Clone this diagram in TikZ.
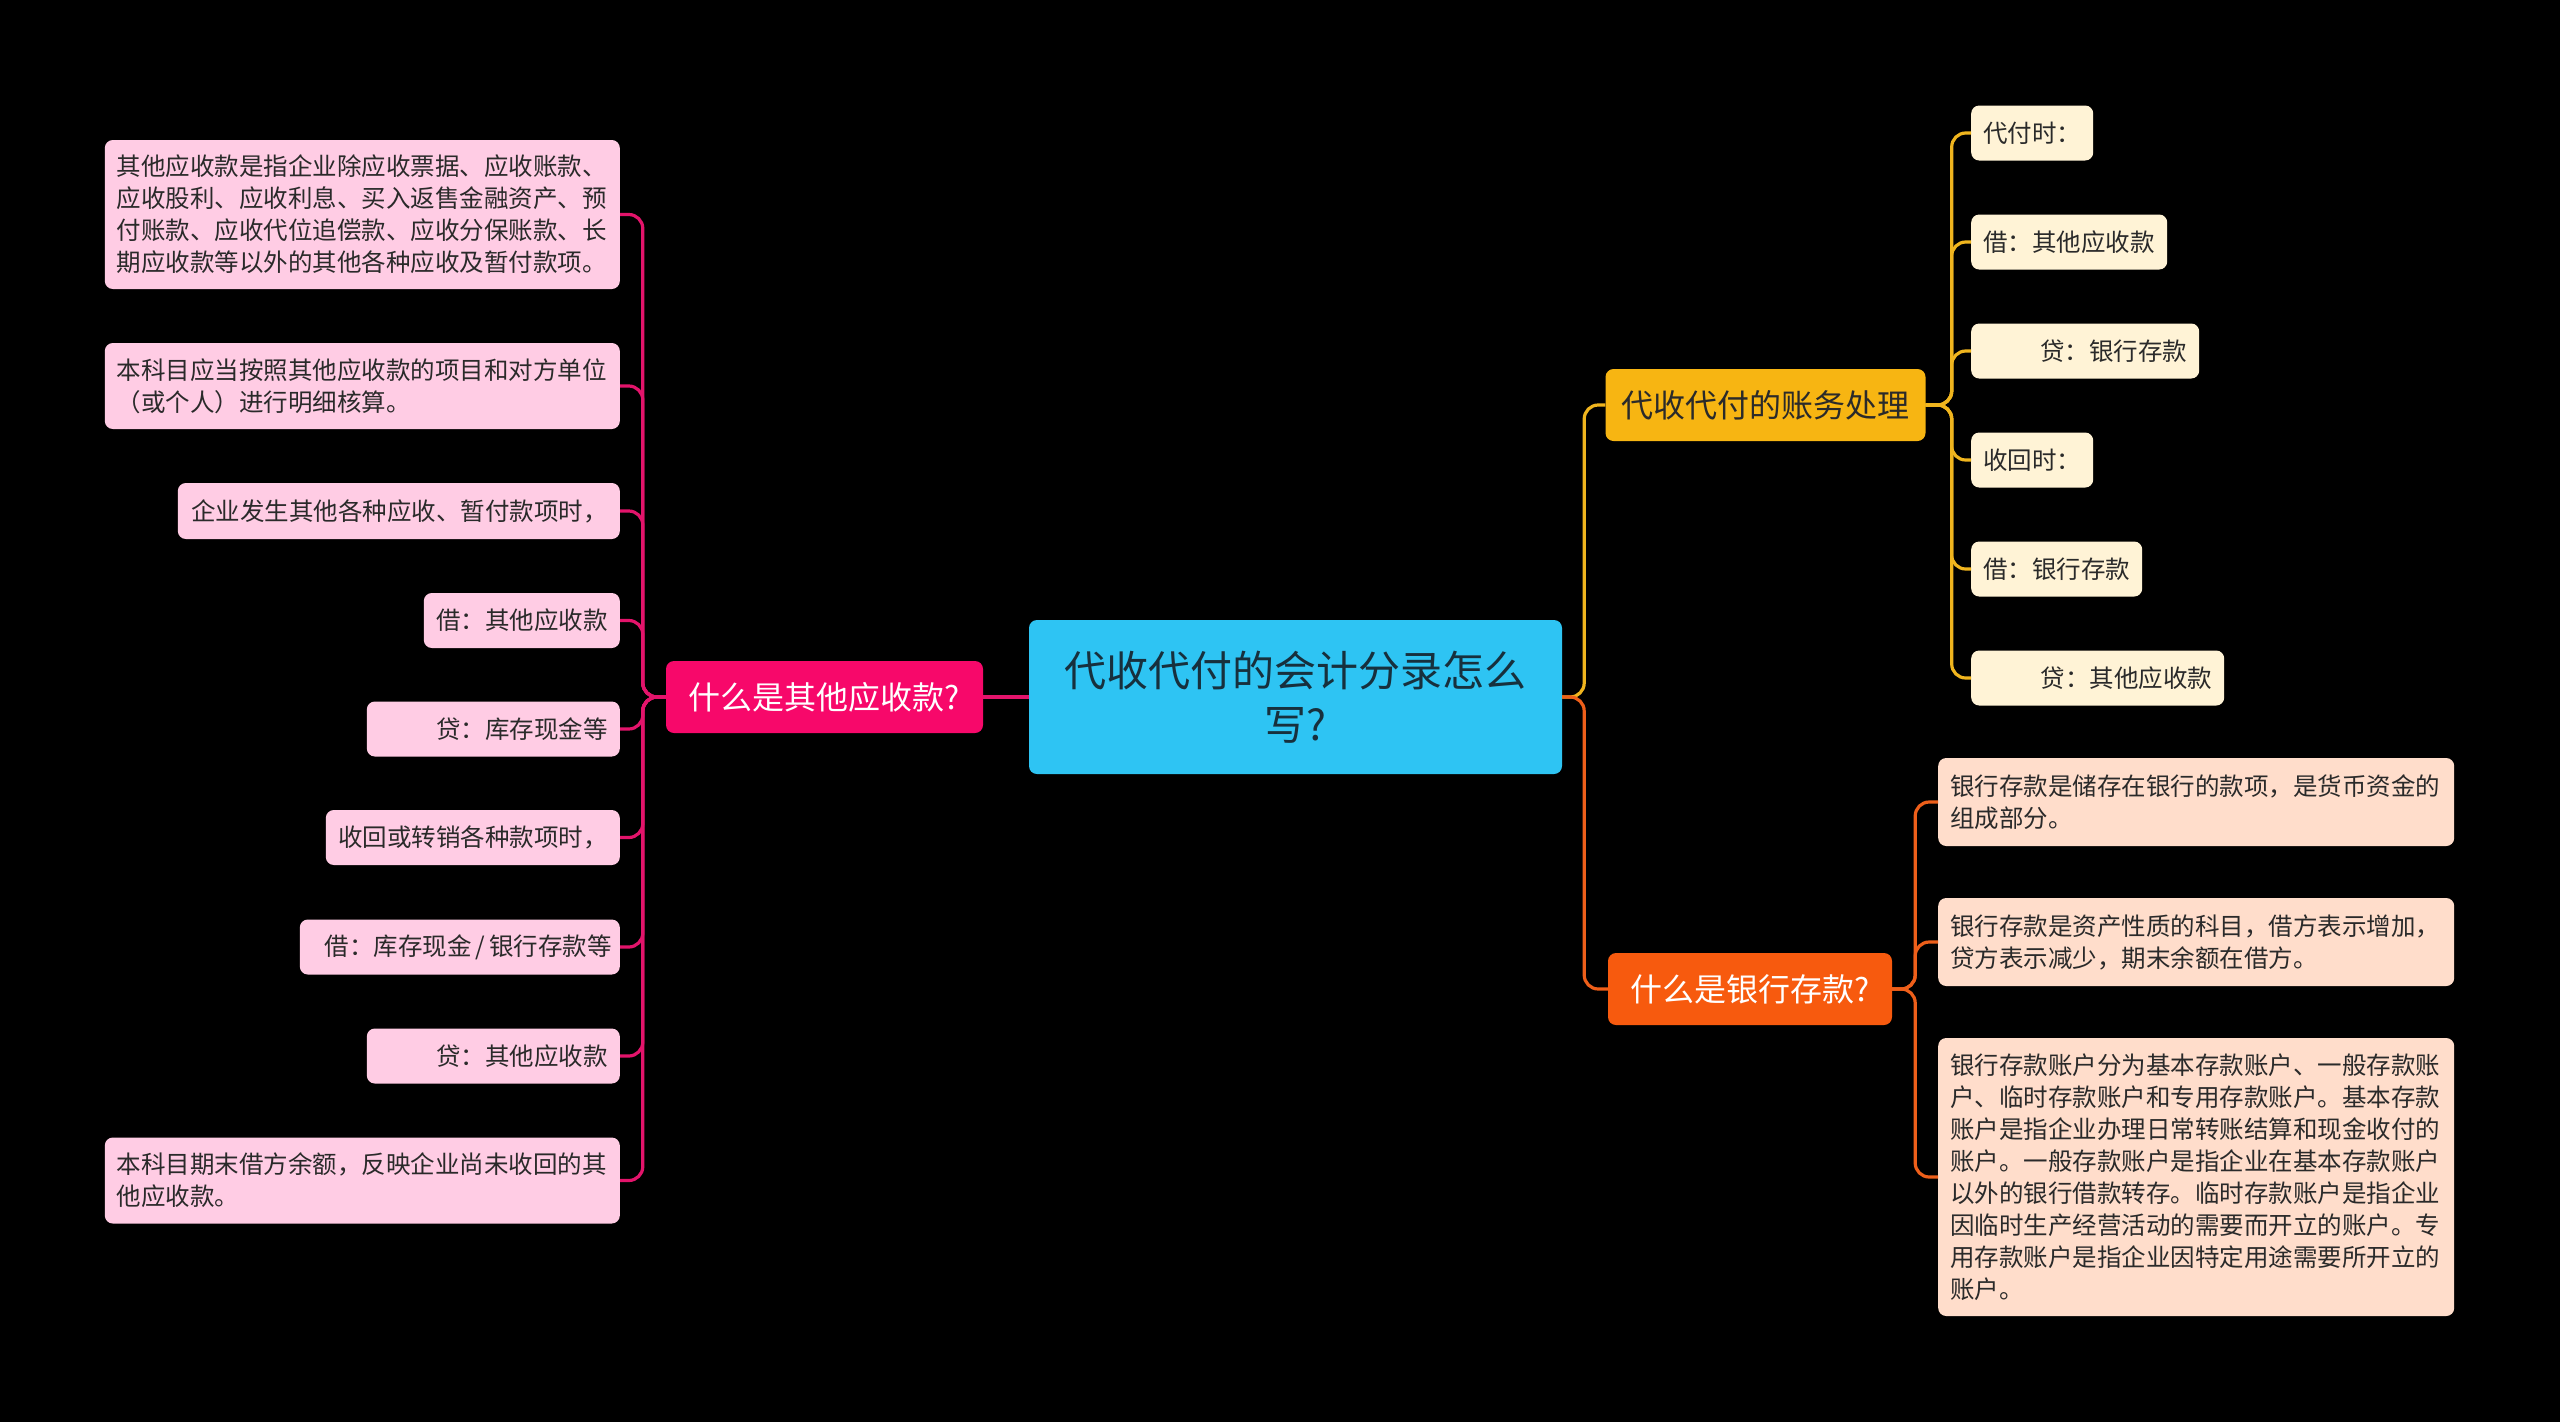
\documentclass[tikz,border=0pt]{standalone}
\usepackage{fontspec}
\setmainfont{Noto Sans CJK SC}
\definecolor{rootfill}{HTML}{2EC4F3}
\definecolor{roottext}{HTML}{17303D}
\definecolor{mainpink}{HTML}{F7086A}
\definecolor{leafpink}{HTML}{FFCCE4}
\definecolor{linepink}{HTML}{E3146B}
\definecolor{mainamber}{HTML}{F7B512}
\definecolor{leafcream}{HTML}{FFF3D6}
\definecolor{lineamber}{HTML}{F0B51E}
\definecolor{mainorange}{HTML}{F75A0E}
\definecolor{leafpeach}{HTML}{FFDDCB}
\definecolor{lineorange}{HTML}{EE5F1A}
\definecolor{leaftext}{HTML}{2A2A2A}
\begin{document}
\begin{tikzpicture}[x=1pt,y=-1pt,
  box/.style={rounded corners=8pt, inner xsep=12pt, inner ysep=0pt, text=leaftext,
    font=\fontsize{24.5}{32}\selectfont},
  pleaf/.style={box, fill=leafpink, anchor=east},
  cleaf/.style={box, fill=leafcream, anchor=west},
  oleaf/.style={box, fill=leafpeach, anchor=west},
  lalign/.style={text width=#1, align=left},
  ralign/.style={text width=#1, align=right},
  mainbox/.style={rounded corners=8pt, inner xsep=16pt, inner ysep=0pt,
    font=\fontsize{32}{40}\selectfont, minimum height=72pt},
  conn/.style={line width=3.2pt, rounded corners=14pt},
]
\fill[black] (0,0) rectangle (2560,1422);
\useasboundingbox (0,0) rectangle (2560,1422);

% root
\node[rounded corners=8pt, fill=rootfill, text=roottext, minimum width=533pt, minimum height=154pt,
  text width=493pt, align=center, inner xsep=20pt,
  font=\fontsize{42}{54}\selectfont] (root) at (1295.5,697) {代收代付的会计分录怎么\\写?};

% main branches
\node[mainbox, fill=mainpink, text=white, minimum width=317pt] (m1) at (824.5,697) {什么是其他应收款?};
\node[mainbox, fill=mainamber, text=leaftext, minimum width=315pt] (m2) at (1765.5,405) {代收代付的账务处理};
\node[mainbox, fill=mainorange, text=white, minimum width=284pt] (m3) at (1750,989) {什么是银行存款?};

% left leaves
\node[pleaf, lalign=491pt, minimum height=149pt] (l1) at (620,214.5) {其他应收款是指企业除应收票据、应收账款、\\应收股利、应收利息、买入返售金融资产、预\\付账款、应收代位追偿款、应收分保账款、长\\期应收款等以外的其他各种应收及暂付款项。};
\node[pleaf, lalign=491pt, minimum height=86pt] (l2) at (620,386) {本科目应当按照其他应收款的项目和对方单位\\（或个人）进行明细核算。};
\node[pleaf, ralign=418pt, minimum height=56pt] (l3) at (620,511) {企业发生其他各种应收、暂付款项时，};
\node[pleaf, ralign=172pt, minimum height=55pt] (l4) at (620,620.5) {借：其他应收款};
\node[pleaf, ralign=229pt, minimum height=55pt] (l5) at (620,729) {贷：库存现金等};
\node[pleaf, ralign=270pt, minimum height=55pt] (l6) at (620,837.5) {收回或转销各种款项时，};
\node[pleaf, ralign=304pt, inner xsep=8pt, minimum height=55pt] (l7) at (620,947) {\mbox{借：库存现金\,/\,银行存款等}};
\node[pleaf, ralign=229pt, minimum height=55pt] (l8) at (620,1056) {贷：其他应收款};
\node[pleaf, lalign=491pt, minimum height=86pt] (l9) at (620,1180.5) {本科目期末借方余额，反映企业尚未收回的其\\他应收款。};

% right amber leaves
\node[cleaf, lalign=98pt, minimum height=55pt] (c1) at (1971,133) {代付时：};
\node[cleaf, lalign=172pt, minimum height=55pt] (c2) at (1971,242) {借：其他应收款};
\node[cleaf, ralign=204pt, minimum height=55pt] (c3) at (1971,351) {贷：银行存款};
\node[cleaf, lalign=98pt, minimum height=55pt] (c4) at (1971,460) {收回时：};
\node[cleaf, lalign=147pt, minimum height=55pt] (c5) at (1971,569) {借：银行存款};
\node[cleaf, ralign=229pt, minimum height=55pt] (c6) at (1971,678) {贷：其他应收款};

% right orange leaves
\node[oleaf, lalign=492pt, minimum height=88pt] (o1) at (1938,802) {银行存款是储存在银行的款项，是货币资金的\\组成部分。};
\node[oleaf, lalign=492pt, minimum height=88pt] (o2) at (1938,942) {银行存款是资产性质的科目，借方表示增加，\\贷方表示减少，期末余额在借方。};
\node[oleaf, lalign=492pt, minimum height=278pt] (o3) at (1938,1177) {银行存款账户分为基本存款账户、一般存款账\\户、临时存款账户和专用存款账户。基本存款\\账户是指企业办理日常转账结算和现金收付的\\账户。一般存款账户是指企业在基本存款账户\\以外的银行借款转存。临时存款账户是指企业\\因临时生产经营活动的需要而开立的账户。专\\用存款账户是指企业因特定用途需要所开立的\\账户。};

% connectors
\draw[conn, linepink] (root.west) -- (m1.east);
\foreach \n in {l1,l2,l3,l4,l5,l6,l7,l8,l9}
  \draw[conn, linepink] (m1.west) -- ++(-23,0) |- (\n.east);
\draw[conn, lineamber] (root.east) -- ++(22,0) |- (m2.west);
\draw[conn, lineorange] (root.east) -- ++(22,0) |- (m3.west);
\foreach \n in {c1,c2,c3,c4,c5,c6}
  \draw[conn, lineamber] (m2.east) -- ++(26,0) |- (\n.west);
\foreach \n in {o1,o2,o3}
  \draw[conn, lineorange] (m3.east) -- ++(23,0) |- (\n.west);
\end{tikzpicture}
\end{document}
